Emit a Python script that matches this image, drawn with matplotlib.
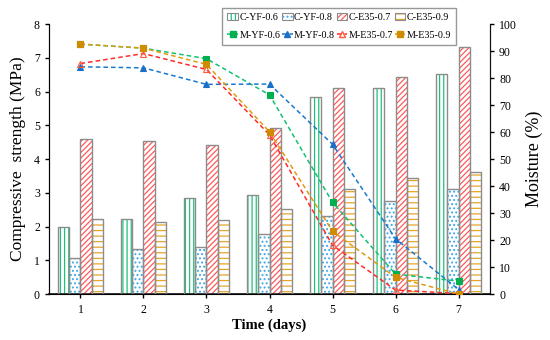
import numpy as np
import matplotlib
matplotlib.use('Agg')
import matplotlib.pyplot as plt
from matplotlib.patches import Patch
from matplotlib.lines import Line2D

plt.rcParams['font.family'] = ['Liberation Serif', 'DejaVu Serif']
plt.rcParams['hatch.linewidth'] = 0.9

### Data
days = [1, 2, 3, 4, 5, 6, 7]
bar_names = ['C-YF-0.6', 'C-YF-0.8', 'C-E35-0.7', 'C-E35-0.9']
c_yf06 = [2.00, 2.22, 2.85, 2.95, 5.85, 6.12, 6.52]
c_yf08 = [1.08, 1.35, 1.40, 1.78, 2.31, 2.76, 3.10]
c_e3507 = [4.60, 4.55, 4.42, 4.92, 6.10, 6.42, 7.33]
c_e3509 = [2.22, 2.15, 2.20, 2.52, 3.11, 3.45, 3.62]

line_names = ['M-YF-0.6', 'M-YF-0.8', 'M-E35-0.7', 'M-E35-0.9']
m_yf06 = [92.6, 91.1, 87.2, 73.8, 34.0, 7.4, 4.8]
m_yf08 = [84.2, 83.8, 77.7, 77.8, 55.5, 20.5, 1.7]
m_e3507 = [85.4, 89.1, 83.2, 59.0, 18.1, 1.5, 0.2]
m_e3509 = [92.6, 91.1, 85.1, 60.1, 23.3, 6.2, 0.0]

###############################################################################
### Styles
bar_cols = ['#1fc07a', '#3aa8e8', '#ff5a5a', '#e5a52a']
bar_hatch = ['||||', '....', '//////', '---']
line_cols = ['#14c070', '#1a78d0', '#ff2a2a', '#e09a10']
mark_cols = ['#00b050', '#1a70c8', '#ff5a3a', '#d08c00']
line_mark = ['s', '^', '^', 's']
mark_fill = ['full', 'full', 'none', 'full']

###############################################################################
fig = plt.figure(figsize=(5.5, 3.4), dpi=100)
ax = fig.add_axes([0.089, 0.135, 0.802, 0.794])
ax2 = ax.twinx()

x = np.array(days, float)
w = 0.18
bars = [c_yf06, c_yf08, c_e3507, c_e3509]
for i, vals in enumerate(bars):
    xpos = x + (i-1.5)*w
    ax.bar(xpos, vals, w, color='white', edgecolor=bar_cols[i],
           hatch=bar_hatch[i], linewidth=0, zorder=2)
    ax.bar(xpos, vals, w, color='none', edgecolor='#8c8c8c',
           linewidth=1.0, zorder=3)

lines = [m_yf06, m_yf08, m_e3507, m_e3509]
for i, vals in enumerate(lines):
    ax2.plot(days, vals, ls=(0, (3, 2)), color=line_cols[i], lw=1.1, zorder=4,
             marker=line_mark[i], mfc=mark_cols[i] if mark_fill[i] == 'full' else 'none',
             mec=mark_cols[i], ms=4.5, mew=0.8)

ax.set_xlim(0.5, 7.5)
ax.set_ylim(0, 8)
ax2.set_ylim(0, 100)
ax.set_xticks(days)
ax.set_yticks(np.arange(0, 9, 1))
ax2.set_yticks(np.arange(0, 101, 10))

for a in (ax, ax2):
    a.spines['top'].set_visible(False)
    a.tick_params(direction='out', length=3, width=1, labelsize=8.5, colors='k')
ax.spines['left'].set_color('#333333')
ax.spines['bottom'].set_color('#111111')
ax.spines['bottom'].set_linewidth(1.2)
ax2.spines['right'].set_color('#111111')
ax.tick_params(axis='x', pad=4)

ax.set_xlabel('Time (days)', fontsize=10.5, fontweight='bold', labelpad=2)
ax.set_ylabel('Compressive  strength (MPa)', fontsize=12.5, labelpad=6)
ax2.set_ylabel('Moisture (%)', fontsize=13, labelpad=6)

### Legend: bars on first row, moisture lines on second row
handles, labels = [], []
for i in range(4):
    handles.append((Patch(facecolor='white', edgecolor=bar_cols[i], hatch=bar_hatch[i], linewidth=0),
                    Patch(facecolor='none', edgecolor='#8c8c8c', linewidth=0.8)))
    labels.append(bar_names[i])
    handles.append(Line2D([], [], ls=(0, (3, 2)), color=line_cols[i], lw=1.1,
                          marker=line_mark[i], ms=4,
                          mfc=mark_cols[i] if mark_fill[i] == 'full' else 'none',
                          mec=mark_cols[i]))
    labels.append(line_names[i])
leg = fig.legend(handles, labels, ncol=4, loc='upper left',
                 bbox_to_anchor=(0.404, 0.977), fontsize=7.3, frameon=True,
                 fancybox=False, edgecolor='#7f7f7f', handlelength=1.05,
                 handleheight=0.6, handletextpad=0.15, columnspacing=0.15,
                 borderpad=0.5, labelspacing=0.85, borderaxespad=0)
leg.get_frame().set_linewidth(1.0)

plt.savefig('out.png', dpi=100)
